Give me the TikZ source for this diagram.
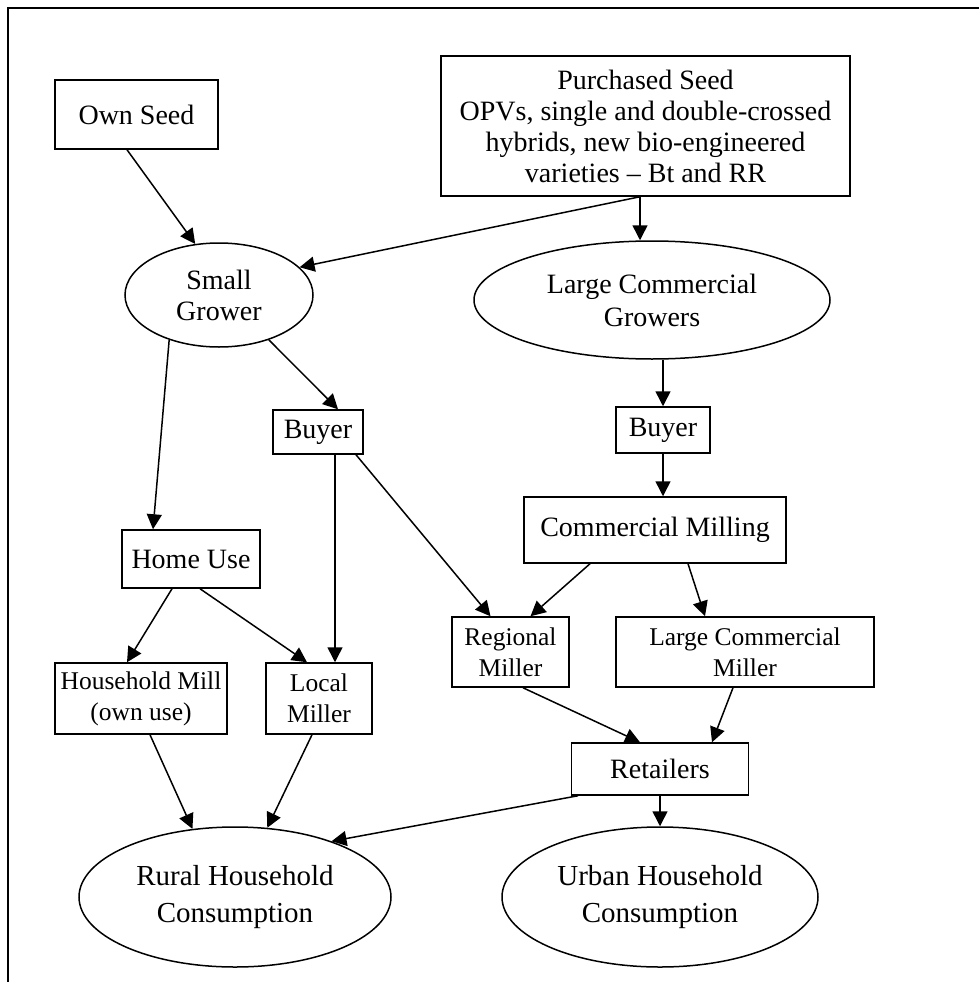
\documentclass[tikz,border=0pt]{standalone}
\usepackage{fontspec}
\setmainfont{Liberation Serif}
\usetikzlibrary{arrows.meta,shapes.geometric}

\tikzset{
  box/.style={draw, line width=1.5pt, inner sep=0pt, align=center,
    font=\fontsize{28}{31}\selectfont},
  millbox/.style={box, font=\fontsize{25.5}{31}\selectfont},
  oval/.style={box, ellipse},
  bigoval/.style={oval, font=\fontsize{29}{37}\selectfont},
  flow/.style={line width=1.5pt, -{Triangle[length=15pt,width=15pt]}},
}

\begin{document}
\begin{tikzpicture}[x=1pt, y=-1pt]
  \useasboundingbox (0,0) rectangle (979,982);
  \draw[line width=1.3pt] (8,982) -- (8,8) -- (979,8);

  % seed sources
  \node[box, minimum width=163pt, minimum height=69pt] (own) at (136.5,114.5) {Own Seed};
  \node[box, minimum width=409pt, minimum height=140pt] (purch) at (645.5,126)
    {Purchased Seed\\OPVs, single and double-crossed\\hybrids, new bio-engineered\\varieties -- Bt and RR};

  % growers
  \node[oval, minimum width=188pt, minimum height=104pt] (small) at (219,295) {Small\\Grower};
  \node[oval, minimum width=356pt, minimum height=118pt,
    font=\fontsize{28}{33}\selectfont] (large) at (652,300) {Large Commercial\\Growers};

  % buyers and milling
  \node[box, minimum width=90pt, minimum height=44pt] (buyA) at (318,432) {Buyer};
  \node[box, minimum width=94pt, minimum height=46pt] (buyB) at (663,430) {Buyer};
  \node[box, minimum width=138pt, minimum height=58pt] (home) at (191,559) {Home Use};
  \node[box, minimum width=262pt, minimum height=66pt] (mill) at (655,530) {Commercial Milling};

  % millers
  \node[millbox, minimum width=117pt, minimum height=70pt] (regional) at (510.5,652) {Regional\\Miller};
  \node[millbox, minimum width=258pt, minimum height=70pt] (lcm) at (745,652) {Large Commercial\\Miller};
  \node[millbox, minimum width=172pt, minimum height=71pt] (hhmill) at (141,698.5) {Household Mill\\(own use)};
  \node[millbox, minimum width=106pt, minimum height=71pt] (local) at (319,698.5) {Local\\Miller};
  \node[box, minimum width=177pt, minimum height=52pt] (retail) at (660,769) {Retailers};

  % consumption
  \node[bigoval, minimum width=312pt, minimum height=140pt] (rural) at (235,897) {Rural Household\\Consumption};
  \node[bigoval, minimum width=316pt, minimum height=140pt] (urban) at (660,897) {Urban Household\\Consumption};

  % connectors
  \draw[flow] ([xshift=-9.5pt]own.south) -- (small.115);
  \draw[flow] ([xshift=-5.5pt]purch.south) -- (small.19);
  \draw[flow] ([xshift=-5.5pt]purch.south) -- ([xshift=-12pt]large.north);
  \draw[flow] (small.222) -- ([xshift=-38pt]home.north);
  \draw[flow] (small.-42) -- ([xshift=20pt]buyA.north);
  \draw[flow] (large.south -| buyB.north) -- (buyB.north);
  \draw[flow] ([xshift=16pt]local.north |- buyA.south) -- ([xshift=16pt]local.north);
  \draw[flow] ([xshift=38pt]buyA.south) -- ([xshift=-20pt]regional.north);
  \draw[flow] (buyB.south) -- (buyB.south |- mill.north);
  \draw[flow] ([xshift=-65pt]mill.south) -- ([xshift=20pt]regional.north);
  \draw[flow] ([xshift=33pt]mill.south) -- ([xshift=-40pt]lcm.north);
  \draw[flow] ([xshift=-19pt]home.south) -- ([xshift=-14pt]hhmill.north);
  \draw[flow] ([xshift=9pt]home.south) -- ([xshift=-12pt]local.north);
  \draw[flow] ([xshift=9pt]hhmill.south) -- (rural.122);
  \draw[flow] ([xshift=-7pt]local.south) -- (rural.65);
  \draw[flow] ([xshift=12.5pt]regional.south) -- ([xshift=-20pt]retail.north);
  \draw[flow] ([xshift=-12pt]lcm.south) -- ([xshift=52pt]retail.north);
  \draw[flow] ([xshift=-82pt]retail.south) -- (rural.30);
  \draw[flow] (retail.south) -- (retail.south |- urban.north);
\end{tikzpicture}
\end{document}
